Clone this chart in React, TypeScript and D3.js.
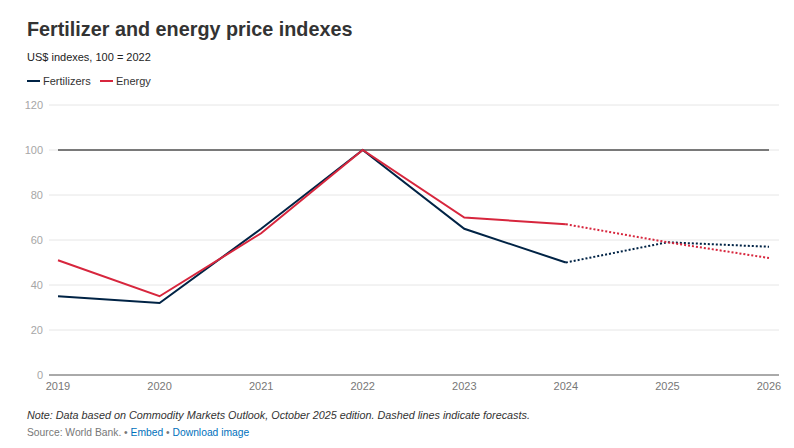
import React from "react";
import * as d3 from "d3";

const years = [2019, 2020, 2021, 2022, 2023, 2024, 2025, 2026];
const fertilizers = [35, 32, 65, 100, 65, 50, 59, 57];
const energy = [51, 35, 63, 100, 70, 67, 59, 52];
const forecastStart = 2024;
const yTicks = [0, 20, 40, 60, 80, 100, 120];

const series = [
  { name: "Fertilizers", values: fertilizers, color: "#002345" },
  { name: "Energy", values: energy, color: "#d7263d" },
];

export default function App() {
  const W = 794, H = 448;
  const x = d3.scaleLinear().domain([2019, 2026]).range([58, 769]);
  const y = d3.scaleLinear().domain([0, 120]).range([375, 105]);
  const line = d3.line<[number, number]>().x((d) => x(d[0])).y((d) => y(d[1]));
  const font = "Arial, 'Liberation Sans', Helvetica, sans-serif";

  return (
    <svg width={W} height={H} style={{ position: "absolute", left: 0, top: 0, fontFamily: font }}>
      <rect width={W} height={H} fill="#fff" />
      <text x={27} y={36} fontSize={19.8} fontWeight="bold" fill="#333">Fertilizer and energy price indexes</text>
      <text x={27} y={61} fontSize={11} fill="#222">US$ indexes, 100 = 2022</text>
      {series.map((s, i) => {
        const lx = i === 0 ? 27 : 100;
        return (
          <g key={s.name}>
            <line x1={lx} x2={lx + 13} y1={81} y2={81} stroke={s.color} strokeWidth={2} />
            <text x={lx + 16} y={85} fontSize={11} fill="#333">{s.name}</text>
          </g>
        );
      })}
      {yTicks.map((t) => (
        <g key={t}>
          {t !== 0 && t !== 100 && (
            <line x1={49} x2={779} y1={y(t)} y2={y(t)} stroke="#e6e6e6" strokeWidth={1} />
          )}
          <text x={43} y={y(t) + 4} fontSize={11} fill="#a6a6a6" textAnchor="end">{t}</text>
        </g>
      ))}
      <line x1={49} x2={779} y1={y(100)} y2={y(100)} stroke="#e6e6e6" strokeWidth={1} />
      <line x1={x(2019)} x2={x(2026)} y1={y(100)} y2={y(100)} stroke="#000" strokeWidth={1} />
      <line x1={49} x2={779} y1={y(0)} y2={y(0)} stroke="#555" strokeWidth={1} />
      {years.map((yr) => (
        <text key={yr} x={x(yr)} y={390} fontSize={11} fill="#777" textAnchor="middle">{yr}</text>
      ))}
      {series.map((s) => {
        const pts: [number, number][] = years.map((yr, i) => [yr, s.values[i]]);
        const hist = pts.filter((p) => p[0] <= forecastStart);
        const fc = pts.filter((p) => p[0] >= forecastStart);
        return (
          <g key={s.name}>
            <path d={line(hist) || ""} fill="none" stroke={s.color} strokeWidth={2} />
            <path d={line(fc) || ""} fill="none" stroke={s.color} strokeWidth={2} strokeDasharray="2,2" />
          </g>
        );
      })}
      <text x={27} y={419} fontSize={10.8} fontStyle="italic" fill="#333">
        Note: Data based on Commodity Markets Outlook, October 2025 edition. Dashed lines indicate forecasts.
      </text>
      <text x={27} y={436} fontSize={10.3} fill="#777">
        Source: World Bank. • <tspan fill="#0071bc">Embed</tspan>  • <tspan fill="#0071bc">Download image</tspan>
      </text>
    </svg>
  );
}
